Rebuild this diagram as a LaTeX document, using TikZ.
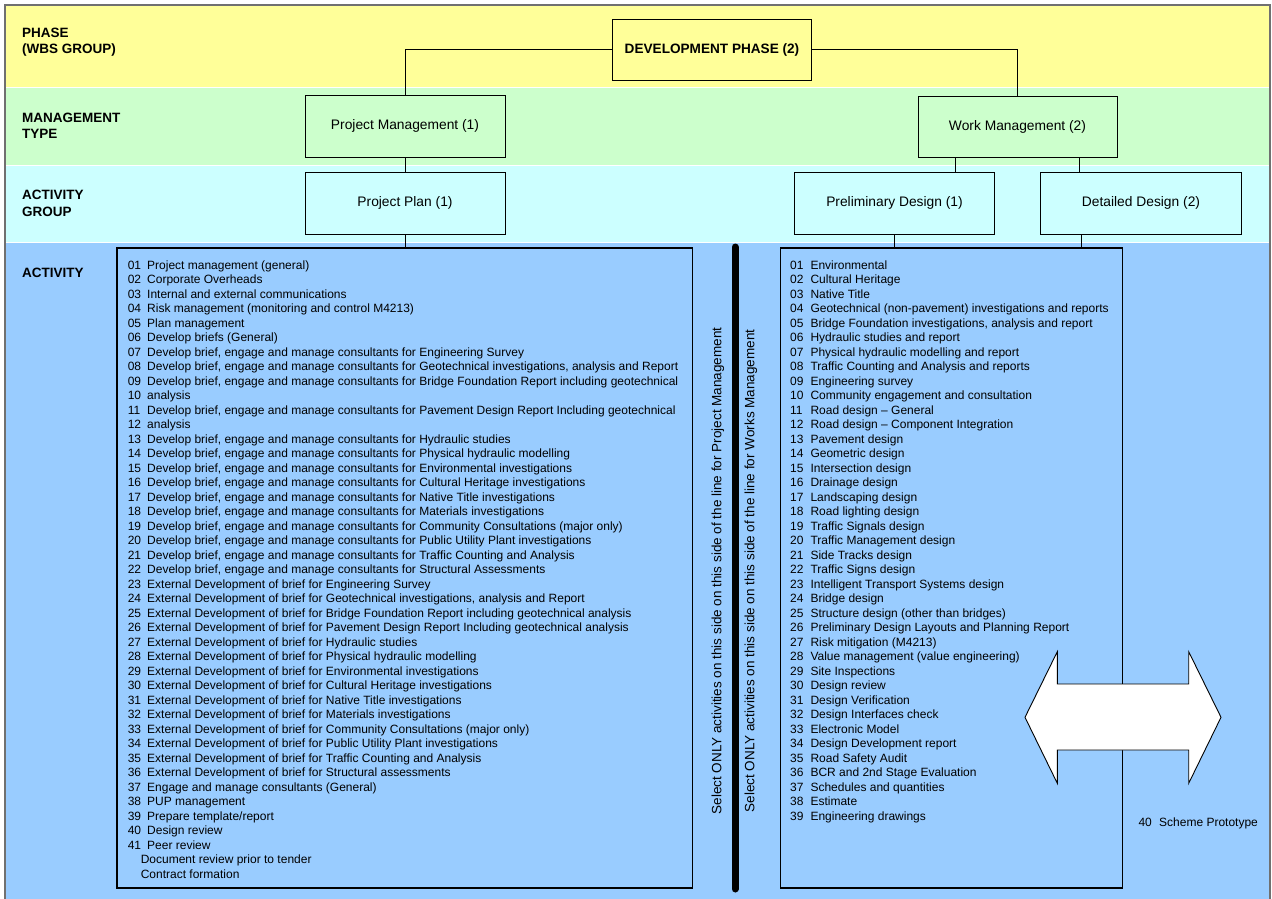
\documentclass[tikz,border=0pt]{standalone}
\usepackage{fontspec}
\setmainfont{Liberation Sans}
\definecolor{bandY}{HTML}{FFFF99}
\definecolor{bandG}{HTML}{CCFFCC}
\definecolor{bandC}{HTML}{CCFFFF}
\definecolor{bandB}{HTML}{99CCFF}
\definecolor{frame}{HTML}{707070}
\begin{document}
\begin{tikzpicture}[x=1pt,y=-1pt,
  box/.style={draw=black, line width=0.9pt, minimum width=200pt, minimum height=62pt, inner sep=0pt, font=\fontsize{13.8}{16}\selectfont},
  listbox/.style={draw=black, line width=1.2pt, inner sep=0pt, minimum height=640pt},
  conn/.style={draw=black, line width=0.7pt},
  lbl/.style={anchor=west, align=left, inner sep=0pt, font=\bfseries\fontsize{13.5}{16.5}\selectfont},
  item/.style={anchor=base west, inner sep=0pt, font=\fontsize{12}{14.5}\selectfont},
  rot/.style={rotate=90, inner sep=0pt, font=\fontsize{13.5}{16}\selectfont}]
\useasboundingbox (0,0) rectangle (1272,899);
\fill[white] (0,0) rectangle (1272,899);
% bands
\fill[bandY] (5,5) rectangle (1270,87);
\fill[bandG] (5,87) rectangle (1270,165);
\fill[bandC] (5,165) rectangle (1270,242);
\fill[bandB] (5,242) rectangle (1270,899);
\draw[white, line width=0.8pt] (5,87) -- (1270,87) (5,165) -- (1270,165) (5,242) -- (1270,242);
\draw[frame, line width=1.3pt] (5,899) -- (5,5) -- (1270,5) -- (1270,899);
% row labels
\node[lbl] (l1) at (22,42) {PHASE\\(WBS GROUP)};
\node[lbl] (l2) at (22,126) {MANAGEMENT\\TYPE};
\node[lbl] (l3) at (22,203.4) {ACTIVITY\\GROUP};
\node[lbl] (l4) at (22,272.7) {ACTIVITY};
% hierarchy boxes
\node[box, fill=bandY, minimum width=199.5pt, minimum height=61.7pt, font=\bfseries\fontsize{13.6}{16}\selectfont] (dev) at (712,49.85) {DEVELOPMENT PHASE (2)};
\node[box, fill=bandG] (pm) at (405,126.3) {Project Management (1)};
\node[box, fill=bandG, minimum width=199pt, minimum height=61pt] (wm) at (1017.5,126.5) {Work Management (2)};
\node[box, fill=bandC] (pp) at (405,203) {Project Plan (1)};
\node[box, fill=bandC] (pd) at (894.5,203) {Preliminary Design (1)};
\node[box, fill=bandC, minimum width=200.4pt] (dd) at (1141,203) {Detailed Design (2)};
% list boxes
\node[listbox, minimum width=575.5pt] (ll) at (404.75,568) {};
\node[listbox, minimum width=342pt] (rl) at (951.7,568) {};
% connectors
\draw[conn] (dev.west) -| (pm.north);
\draw[conn] (dev.east) -| (wm.north);
\draw[conn] (pm.south) -- (pp.north);
\draw[conn] (pp.south) -- (pp.south |- ll.north);
\coordinate (w1) at ([xshift=-62.5pt]wm.south);
\coordinate (w2) at ([xshift=61.5pt]wm.south);
\coordinate (d1) at ([xshift=-60pt]dd.south);
\draw[conn] (w1) -- (w1 |- pd.north);
\draw[conn] (w2) -- (w2 |- dd.north);
\draw[conn] (pd.south) -- (pd.south |- rl.north);
\draw[conn] (d1) -- (d1 |- rl.north);
% separator
\coordinate (s1) at (735,247);
\coordinate (s2) at (735,889);
\draw[line width=7pt, line cap=round] (s1) -- (s2);
\node[rot] (r1) at (718,571) {Select ONLY activities on this side on this side of the line for Project Management};
\node[rot] (r2) at (751,571) {Select ONLY activities on this side on this side of the line for Works Management};
% left list
\foreach \t [count=\i] in {
 {Project management (general)},
 {Corporate Overheads},
 {Internal and external communications},
 {Risk management (monitoring and control M4213)},
 {Plan management},
 {Develop briefs (General)},
 {Develop brief, engage and manage consultants for Engineering Survey},
 {Develop brief, engage and manage consultants for Geotechnical investigations, analysis and Report},
 {Develop brief, engage and manage consultants for Bridge Foundation Report including geotechnical},
 {analysis},
 {Develop brief, engage and manage consultants for Pavement Design Report Including geotechnical},
 {analysis},
 {Develop brief, engage and manage consultants for Hydraulic studies},
 {Develop brief, engage and manage consultants for Physical hydraulic modelling},
 {Develop brief, engage and manage consultants for Environmental investigations},
 {Develop brief, engage and manage consultants for Cultural Heritage investigations},
 {Develop brief, engage and manage consultants for Native Title investigations},
 {Develop brief, engage and manage consultants for Materials investigations},
 {Develop brief, engage and manage consultants for Community Consultations (major only)},
 {Develop brief, engage and manage consultants for Public Utility Plant investigations},
 {Develop brief, engage and manage consultants for Traffic Counting and Analysis},
 {Develop brief, engage and manage consultants for Structural Assessments},
 {External Development of brief for Engineering Survey},
 {External Development of brief for Geotechnical investigations, analysis and Report},
 {External Development of brief for Bridge Foundation Report including geotechnical analysis},
 {External Development of brief for Pavement Design Report Including geotechnical analysis},
 {External Development of brief for Hydraulic studies},
 {External Development of brief for Physical hydraulic modelling},
 {External Development of brief for Environmental investigations},
 {External Development of brief for Cultural Heritage investigations},
 {External Development of brief for Native Title investigations},
 {External Development of brief for Materials investigations},
 {External Development of brief for Community Consultations (major only)},
 {External Development of brief for Public Utility Plant investigations},
 {External Development of brief for Traffic Counting and Analysis},
 {External Development of brief for Structural assessments},
 {Engage and manage consultants (General)},
 {PUP management},
 {Prepare template/report},
 {Design review},
 {Peer review}}
{
 \node[item] (ln\i) at (127.6,{269.3+14.5*(\i-1)}) {\ifnum\i<10 0\fi\i};
 \node[item] (lt\i) at (147,{269.3+14.5*(\i-1)}) {\t};
}
\node[item] (lt42) at (140.6,863.8) {Document review prior to tender};
\node[item] (lt43) at (140.6,878.3) {Contract formation};
% right list
\foreach \t [count=\i] in {
 {Environmental},
 {Cultural Heritage},
 {Native Title},
 {Geotechnical (non-pavement) investigations and reports},
 {Bridge Foundation investigations, analysis and report},
 {Hydraulic studies and report},
 {Physical hydraulic modelling and report},
 {Traffic Counting and Analysis and reports},
 {Engineering survey},
 {Community engagement and consultation},
 {Road design – General},
 {Road design – Component Integration},
 {Pavement design},
 {Geometric design},
 {Intersection design},
 {Drainage design},
 {Landscaping design},
 {Road lighting design},
 {Traffic Signals design},
 {Traffic Management design},
 {Side Tracks design},
 {Traffic Signs design},
 {Intelligent Transport Systems design},
 {Bridge design},
 {Structure design (other than bridges)},
 {Preliminary Design Layouts and Planning Report},
 {Risk mitigation (M4213)},
 {Value management (value engineering)},
 {Site Inspections},
 {Design review},
 {Design Verification},
 {Design Interfaces check},
 {Electronic Model},
 {Design Development report},
 {Road Safety Audit},
 {BCR and 2nd Stage Evaluation},
 {Schedules and quantities},
 {Estimate},
 {Engineering drawings}}
{
 \node[item] (rn\i) at (790,{269+14.5*(\i-1)}) {\ifnum\i<10 0\fi\i};
 \node[item] (rt\i) at (810.3,{269+14.5*(\i-1)}) {\t};
}
% double arrow
\draw[fill=white, line width=0.9pt, line join=miter] (1025,717.3) -- (1057.3,651.7) -- (1057.3,684) -- (1188.7,684) -- (1188.7,651.7) -- (1221,717.3) -- (1188.7,783.3) -- (1188.7,750) -- (1057.3,750) -- (1057.3,783.3) -- cycle;
\node[item] (sp) at (1138.3,826.6) {\makebox[20.7pt][l]{40}Scheme Prototype};
\end{tikzpicture}
\end{document}
